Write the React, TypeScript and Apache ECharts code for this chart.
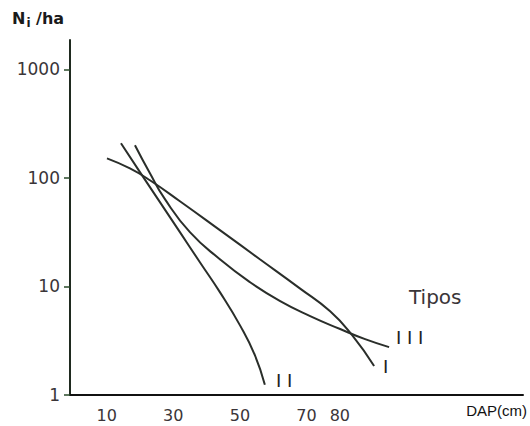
import React, { useEffect, useRef } from "react";
import * as echarts from "echarts";

// DAP (cm) and N_i/ha
const dapI = [10.1, 17.0, 23.0, 32.0, 44.0, 56.0, 68.0, 77.1, 83.7, 90.3];
const nI = [151, 122, 95, 60.9, 33.0, 17.8, 9.6, 5.9, 3.56, 1.85];

const dapII = [14.3, 20.0, 26.0, 32.0, 38.0, 44.0, 50.0, 54.5, 57.5];
const nII = [208, 113, 59.7, 31.6, 16.7, 8.86, 4.4, 2.33, 1.24];

const dapIII = [18.5, 23.0, 27.5, 35.0, 44.0, 53.0, 62.1, 71.1, 80.1, 87.6, 94.8];
const nIII = [199.5, 110, 63.6, 31.6, 17.8, 10.96, 7.32, 5.33, 4.05, 3.27, 2.76];

const xTickLabels = [10, 30, 50, 70, 80];

const lineColor = "#2a2e2a";
const textColor = "#3a3538";
const numFont = "DejaVu Sans";

function pairs(xs: number[], ys: number[]) {
  return xs.map((x, i) => [x, ys[i]]);
}

export default function App() {
  const ref = useRef<HTMLDivElement>(null);
  useEffect(() => {
    document.body.style.margin = "0";
    if (!ref.current) return;
    const chart = echarts.init(ref.current, undefined, { renderer: "svg" });
    const mkSeries = (name: string, xs: number[], ys: number[]) => ({
      name,
      type: "line",
      data: pairs(xs, ys),
      smooth: 0.5,
      showSymbol: false,
      symbol: "none",
      lineStyle: { color: lineColor, width: 2 },
      z: 3,
    });
    chart.setOption({
      animation: false,
      backgroundColor: "#ffffff",
      grid: { left: 70, right: 7, top: 40, bottom: 31 },
      xAxis: {
        type: "value",
        min: -1,
        max: 135,
        axisLine: { show: true, onZero: false, lineStyle: { color: "#111", width: 2 } },
        axisTick: { show: false },
        splitLine: { show: false },
        axisLabel: {
          customValues: xTickLabels,
          color: textColor,
          fontFamily: numFont,
          fontSize: 16,
          margin: 12,
        },
      },
      yAxis: {
        type: "log",
        logBase: 10,
        min: 1,
        max: 1860,
        axisLine: { show: true, onZero: false, lineStyle: { color: "#1f2a1f", width: 2 } },
        axisTick: { show: true, length: 6, lineStyle: { color: "#2a4a2a", width: 1.5 } },
        splitLine: { show: false },
        minorTick: { show: false },
        axisLabel: {
          color: textColor,
          fontFamily: numFont,
          fontSize: 17,
          margin: 10,
          showMaxLabel: false,
          formatter: (v: number) => String(Math.round(v)),
        },
      },
      series: [
        mkSeries("I", dapI, nI),
        mkSeries("II", dapII, nII),
        mkSeries("III", dapIII, nIII),
      ],
      graphic: [
        {
          type: "text",
          left: 12,
          top: 10,
          style: {
            text: "{n|N}{s|i}{n| /ha}",
            rich: {
              n: { fontFamily: "DejaVu Sans", fontSize: 16, fontWeight: "bold", fill: "#1a1a1a" },
              s: { fontFamily: "DejaVu Sans", fontSize: 12, fontWeight: "bold", fill: "#1a1a1a", verticalAlign: "bottom", padding: [10, 0, 0, 1] },
            },
          },
        },
        {
          type: "text",
          x: 527,
          y: 410,
          style: {
            text: "DAP(cm)",
            fontFamily: "Liberation Sans",
            fontSize: 15,
            fill: "#111",
            align: "right",
            verticalAlign: "middle",
          },
        },
        {
          type: "text",
          x: 409,
          y: 297,
          style: { text: "Tipos", fontFamily: numFont, fontSize: 20, fill: textColor, verticalAlign: "middle" },
        },
        {
          type: "text",
          x: 396,
          y: 337,
          style: { text: "I I I", fontFamily: numFont, fontSize: 18, fill: "#222", verticalAlign: "middle" },
        },
        {
          type: "text",
          x: 383,
          y: 366,
          style: { text: "I", fontFamily: numFont, fontSize: 18, fill: "#222", verticalAlign: "middle" },
        },
        {
          type: "text",
          x: 276,
          y: 380,
          style: { text: "I I", fontFamily: numFont, fontSize: 18, fill: "#222", verticalAlign: "middle" },
        },
      ],
    });
    return () => chart.dispose();
  }, []);
  return <div ref={ref} style={{ width: 530, height: 426 }} />;
}
